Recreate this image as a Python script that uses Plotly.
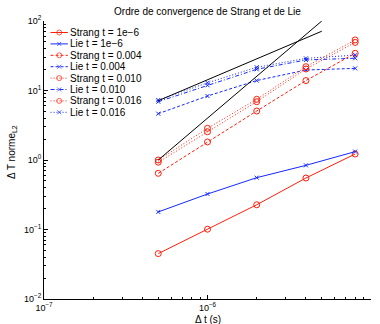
import plotly.graph_objects as go

# ---- data ----
dt = [5e-7, 1e-6, 2e-6, 4e-6, 8e-6]
strang_1e6 = [0.045, 0.101, 0.227, 0.551, 1.22]
lie_1e6 = [0.179, 0.324, 0.557, 0.838, 1.32]
strang_0004 = [0.643, 1.82, 5.07, 13.9, 34.3]
lie_0004 = [4.64, 8.33, 13.9, 19.7, 20.8]
strang_0010 = [0.93, 2.55, 6.9, 20.4, 49.2]
lie_0010 = [6.9, 11.9, 20.2, 27.5, 29.1]
strang_0016 = [1.0, 2.86, 7.47, 22.0, 53.4]
lie_0016 = [7.3, 12.9, 21.6, 29.0, 32.3]
ref_dt = [5e-7, 5e-6]
ref_order2 = [1.0, 100.0]
ref_order1 = [7.13, 71.3]

x_tickvals = [1e-7, 1e-6, 1e-5]
x_ticktext = ["10<sup>−7</sup>", "10<sup>−6</sup>", "10<sup>−5</sup>"]
y_tickvals = [1e-2, 1e-1, 1, 10, 100]
y_ticktext = ["10<sup>−2</sup>", "10<sup>−1</sup>", "10<sup>0</sup>", "10<sup>1</sup>", "10<sup>2</sup>"]

title = "Ordre de convergence de Strang et de Lie"
xlabel = "Δ t (s)"
ylabel = "Δ T norme<sub>L2</sub>"

RED = "rgb(255,30,10)"
BLUE = "rgb(20,40,255)"
DASH = "3px,2px"
DOT = "1px,2px"
DASHDOT = "4px,2px,1px,2px"

series = [
    ("Strang t = 1e−6", strang_1e6, RED, "solid", "circle-open"),
    ("Lie t = 1e−6", lie_1e6, BLUE, "solid", "x-thin-open"),
    ("Strang t = 0.004", strang_0004, RED, DASH, "circle-open"),
    ("Lie t = 0.004", lie_0004, BLUE, DASH, "x-thin-open"),
    ("Strang t = 0.010", strang_0010, RED, DOT, "circle-open"),
    ("Lie t = 0.010", lie_0010, BLUE, DASHDOT, "x-thin-open"),
    ("Strang t = 0.016", strang_0016, RED, DOT, "circle-open"),
    ("Lie t = 0.016", lie_0016, BLUE, DOT, "x-thin-open"),
]

FONT = "Liberation Sans, Arial, Helvetica, sans-serif"

fig = go.Figure()

for name, vals, col, dash, sym in series:
    msize = 6 if sym.startswith("circle") else 4
    fig.add_trace(go.Scatter(
        x=dt, y=vals, mode="lines+markers", name=name, showlegend=False,
        line=dict(color=col, width=1, dash=dash),
        marker=dict(symbol=sym, size=msize, color=col, line=dict(color=col, width=1)),
    ))

for yy in (ref_order2, ref_order1):
    fig.add_trace(go.Scatter(
        x=ref_dt, y=yy, mode="lines", showlegend=False,
        line=dict(color="black", width=1),
    ))

# ---- custom compact legend drawn on an overlay (paper-like) axis ----
plot_top, plot_h = 21, 278
first_row, row_gap = 32.5, 11.4
lx0, lx1, ltext = 0.020, 0.073, 0.073
for i, (name, vals, col, dash, sym) in enumerate(series):
    py = first_row + row_gap * i
    yp = 1 - (py - plot_top) / plot_h
    msize = 5 if sym.startswith("circle") else 4
    fig.add_trace(go.Scatter(
        x=[lx0, (lx0 + lx1) / 2, lx1], y=[yp, yp, yp], mode="lines+markers",
        xaxis="x2", yaxis="y2", showlegend=False, hoverinfo="skip",
        line=dict(color=col, width=1, dash=dash),
        marker=dict(symbol=sym, size=[0, msize, 0], color=col,
                    line=dict(color=col, width=1)),
    ))
    fig.add_annotation(
        x=ltext, y=yp, xref="x2", yref="y2", text=name, showarrow=False,
        xanchor="left", yanchor="middle", font=dict(size=10, color="black", family=FONT),
    )

axis_common = dict(
    type="log", showgrid=False, zeroline=False, showline=True, linecolor="black",
    linewidth=1, ticks="inside", ticklen=4, tickcolor="black", tickwidth=1,
    tickfont=dict(size=9, color="black", family=FONT),
    minor=dict(ticks="inside", ticklen=2, tickcolor="black", tickwidth=1, dtick="D1", showgrid=False),
    mirror=False,
)

fig.update_layout(
    width=380, height=324,
    margin=dict(l=44, r=9, t=21, b=25),
    paper_bgcolor="white", plot_bgcolor="white",
    font=dict(family=FONT, size=10, color="black"),
    title=dict(text=title, x=0.5, xref="paper", y=1 - 11 / 324, yref="container",
               xanchor="center", yanchor="middle", font=dict(size=10, color="black")),
    xaxis=dict(range=[-7, -5], tickvals=x_tickvals, ticktext=x_ticktext, **axis_common),
    yaxis=dict(range=[-2, 2], tickvals=y_tickvals, ticktext=y_ticktext, **axis_common),
    xaxis2=dict(overlaying="x", range=[0, 1], visible=False, fixedrange=True),
    yaxis2=dict(overlaying="y", range=[0, 1], visible=False, fixedrange=True),
    showlegend=False,
)

fig.add_annotation(text=xlabel, x=0.5, xref="paper", y=-(319 - 299) / 278, yref="paper",
                   showarrow=False, xanchor="center", yanchor="middle",
                   font=dict(size=10, color="black", family=FONT))
fig.add_annotation(text=ylabel, x=0.0, xref="paper", xshift=-32,
                   y=1 - (152 - 21) / 278, yref="paper",
                   showarrow=False, textangle=-90, xanchor="center", yanchor="middle",
                   font=dict(size=10, color="black", family=FONT))

fig.write_html(
    "out.html",
    config={"displayModeBar": False},
    post_script="document.body.style.margin='0';document.body.style.overflow='hidden';",
)
